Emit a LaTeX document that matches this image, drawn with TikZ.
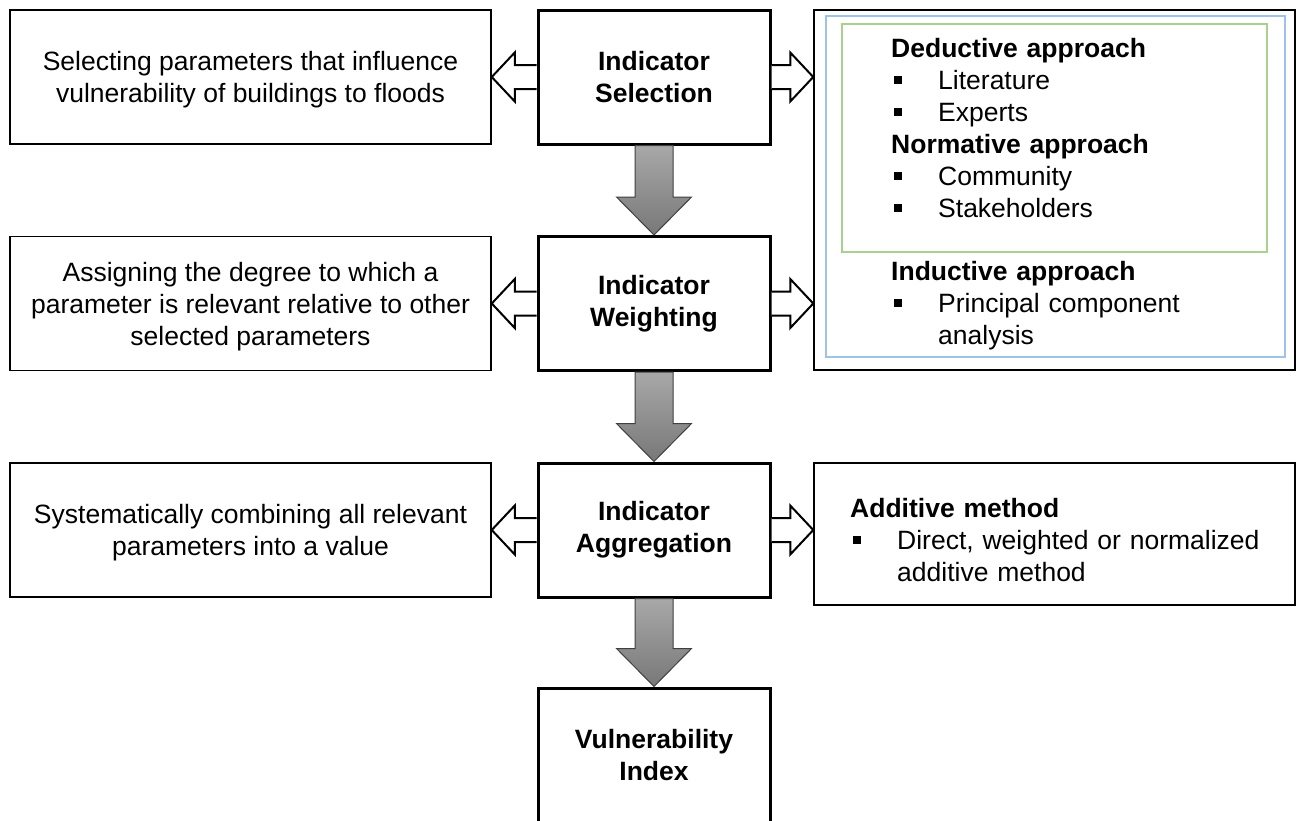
\documentclass[tikz,border=0pt]{standalone}
\usepackage{fontspec}
\setmainfont{Liberation Sans}
\usetikzlibrary{calc}

\definecolor{panelblue}{RGB}{157,195,230}
\definecolor{panelgreen}{RGB}{169,209,142}
\definecolor{arrowtop}{RGB}{168,168,168}
\definecolor{arrowbottom}{RGB}{120,120,120}

% square list bullet followed by the item indent
\newcommand\sqbullet{\makebox[47pt][l]{\hspace{3pt}\raisebox{5pt}{\rule{8pt}{8pt}}}}

% hollow block arrow from the side of one box to the side of another
\newcommand\openarrow[2]{%
  \draw[openarrowstyle]
    ($(#1)+(0,-12)$) -- ($(#2)!23pt!(#1)+(0,-12)$) -- ($(#2)!23pt!(#1)+(0,-24.5)$)
    -- (#2)
    -- ($(#2)!23pt!(#1)+(0,24.5)$) -- ($(#2)!23pt!(#1)+(0,12)$) -- ($(#1)+(0,12)$);}

% shaded block arrow between stages
\newcommand\stagearrow[2]{%
  \draw[stagearrowstyle]
    ($(#1)+(-19,0)$) -- ($(#2)!38pt!(#1)+(-19,0)$) -- ($(#2)!38pt!(#1)+(-37.5,0)$)
    -- (#2)
    -- ($(#2)!38pt!(#1)+(37.5,0)$) -- ($(#2)!38pt!(#1)+(19,0)$) -- ($(#1)+(19,0)$) -- cycle;}

\begin{document}
\begin{tikzpicture}[x=1pt,y=-1pt,
  every node/.style={font=\fontsize{26.5}{32}\selectfont},
  descbox/.style={draw=black, line width=1.5pt, minimum width=481pt,
    minimum height=134pt, align=center, inner sep=0pt, text depth=0pt},
  stagebox/.style={draw=black, line width=3pt, minimum width=232pt,
    minimum height=134pt, align=center, inner sep=0pt,
    font=\fontsize{26.5}{32}\selectfont\bfseries},
  methodbox/.style={draw=black, line width=1.5pt, minimum width=481pt, inner sep=0pt},
  listtext/.style={anchor=base west, inner sep=0pt, text width=430pt, align=left},
  openarrowstyle/.style={draw=black, fill=white, line width=2pt, line join=miter},
  stagearrowstyle/.style={draw=black!75, line width=1pt, top color=arrowtop,
    bottom color=arrowbottom, line join=miter}
]
\useasboundingbox[fill=white] (0,0) rectangle (1296,820);

% stages
\node[stagebox] (sel) at (654,77) {Indicator\\Selection};
\node[stagebox] (wgt) at (654,303.5) {Indicator\\Weighting};
\node[stagebox] (agg) at (654,530) {Indicator\\Aggregation};
\node[stagebox, text depth=0pt] (vul) at (654,755) {Vulnerability\\Index};

% descriptions
\node[descbox] (dsel) at (250.5,77) {Selecting parameters that influence\\vulnerability of buildings to floods};
\node[descbox] (dwgt) at (250.5,303.5) {Assigning the degree to which a\\parameter is relevant relative to other\\selected parameters};
\node[descbox] (dagg) at (250.5,530) {Systematically combining all relevant\\parameters into a value};

% methods for selection and weighting
\node[methodbox, minimum height=360pt] (mapp) at (1054.5,190) {};
\draw[panelblue, line width=2pt] (826,16) rectangle (1285,357);
\draw[panelgreen, line width=2pt] (842,24) rectangle (1267,252);
\node[listtext] (dednorm) at (891,57) {\textbf{Deductive approach}\\
  \sqbullet Literature\\
  \sqbullet Experts\\
  \textbf{Normative approach}\\
  \sqbullet Community\\
  \sqbullet Stakeholders};
\node[listtext] (induct) at (891,280) {\textbf{Inductive approach}\\
  \sqbullet Principal component\\
  \hspace*{47pt}analysis};

% methods for aggregation
\node[methodbox, minimum height=142pt] (madd) at (1054.5,534) {};
\node[listtext] (additive) at (850,517) {\textbf{Additive method}\\
  \sqbullet Direct, weighted or normalized\\
  \hspace*{47pt}additive method};

% stage flow
\stagearrow{sel.south}{wgt.north}
\stagearrow{wgt.south}{agg.north}
\stagearrow{agg.south}{vul.north}

% side arrows
\openarrow{sel.west}{dsel.east}
\openarrow{wgt.west}{dwgt.east}
\openarrow{agg.west}{dagg.east}
\openarrow{sel.east}{mapp.west |- sel.east}
\openarrow{wgt.east}{mapp.west |- wgt.east}
\openarrow{agg.east}{madd.west |- agg.east}
\end{tikzpicture}
\end{document}
